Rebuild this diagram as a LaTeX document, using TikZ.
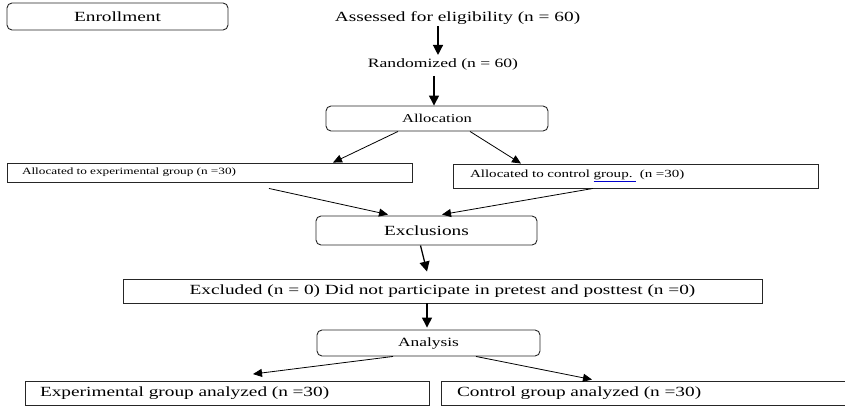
\documentclass[tikz,border=0pt]{standalone}
\usepackage{fontspec}
\setmainfont{Liberation Serif}[FakeStretch=1.38]
\usetikzlibrary{arrows.meta}
\newcommand\bluemark[1]{\textcolor{blue!80!black}{\underline{\textcolor{black}{#1}}}}
\begin{document}
\begin{tikzpicture}[x=1pt,y=-1pt,
  rbox/.style={draw=black!85, line width=0.9pt, rounded corners=5pt, inner sep=0pt},
  sbox/.style={draw=black!85, line width=0.9pt, inner sep=0pt},
  txt/.style={inner sep=0pt},
  arr/.style={-{Triangle[length=9pt,width=8pt]}, line width=0.8pt},
  varr/.style={-{Triangle[length=10pt,width=10pt]}, line width=1.3pt},
  big/.style={font=\fontsize{14}{16}\selectfont}]
\useasboundingbox (0,0) rectangle (845,407);

\node[rbox, big, minimum width=221pt, minimum height=27pt] (enroll) at (117.5,16.5) {Enrollment};
\node[txt, big, anchor=base] (assess) at (457.5,21) {Assessed for eligibility (n = 60)};
\node[txt, font=\fontsize{12.75}{14}\selectfont, anchor=base] (rand) at (443,67) {Randomized (n = 60)};
\node[rbox, font=\fontsize{12}{14}\selectfont, minimum width=222pt, minimum height=25pt] (alloc) at (437,118.5) {Allocation};
\node[sbox, font=\fontsize{9.6}{11}\selectfont, minimum width=405pt, minimum height=19pt, text width=375pt, inner xsep=15pt, align=left] (expg) at (209.5,172.5) {Allocated to experimental group (n =30)};
\node[sbox, font=\fontsize{10.9}{12}\selectfont, minimum width=365pt, minimum height=24pt, text width=331pt, inner xsep=17pt, align=left] (ctrlg) at (635.5,176) {Allocated to control \bluemark{group.\ }\ (n =30)};
\node[rbox, big, minimum width=221pt, minimum height=29pt] (excl) at (426.5,230.5) {Exclusions};
\node[sbox, big, minimum width=639pt, minimum height=24pt] (excluded) at (442.5,291) {Excluded (n = 0) Did not participate in pretest and posttest (n =0)};
\node[rbox, font=\fontsize{12.6}{14}\selectfont, minimum width=223pt, minimum height=26pt] (anal) at (428.5,343) {Analysis};
\node[sbox, big, minimum width=404pt, minimum height=24pt, text width=374pt, inner xsep=15pt, align=left] (expa) at (227,393.5) {Experimental group analyzed (n =30)};
\node[sbox, big, minimum width=409pt, minimum height=24pt, text width=377pt, inner xsep=16pt, align=left] (ctla) at (645.5,393) {Control group analyzed (n =30)};

\draw[varr] ([xshift=-19.5pt,yshift=-2pt]assess.south) -- ([xshift=-5pt,yshift=3pt]rand.north);
\draw[varr] ([xshift=-9pt,yshift=-6pt]rand.south) -- ([xshift=-3pt]alloc.north);
\draw[arr] ([xshift=-39pt]alloc.south) -- ([xshift=123.5pt]expg.north);
\draw[arr] ([xshift=33pt]alloc.south) -- ([xshift=-114.5pt]ctrlg.north);
\draw[arr] ([xshift=59.5pt,yshift=-6pt]expg.south) -- ([xshift=-38.5pt,yshift=1pt]excl.north);
\draw[arr] ([xshift=-42.5pt]ctrlg.south) -- ([xshift=15.5pt,yshift=1pt]excl.north);
\draw[varr] ([xshift=-6pt]excl.south) -- ([xshift=-15.5pt,yshift=7pt]excluded.north);
\draw[varr] ([xshift=-15.5pt]excluded.south) -- ([xshift=-1.5pt,yshift=2pt]anal.north);
\draw[arr] ([xshift=-35.5pt]anal.south) -- ([xshift=26pt,yshift=7pt]expa.north);
\draw[arr] ([xshift=47.5pt]anal.south) -- ([xshift=-53.5pt,yshift=1pt]ctla.north);
\end{tikzpicture}
\end{document}
